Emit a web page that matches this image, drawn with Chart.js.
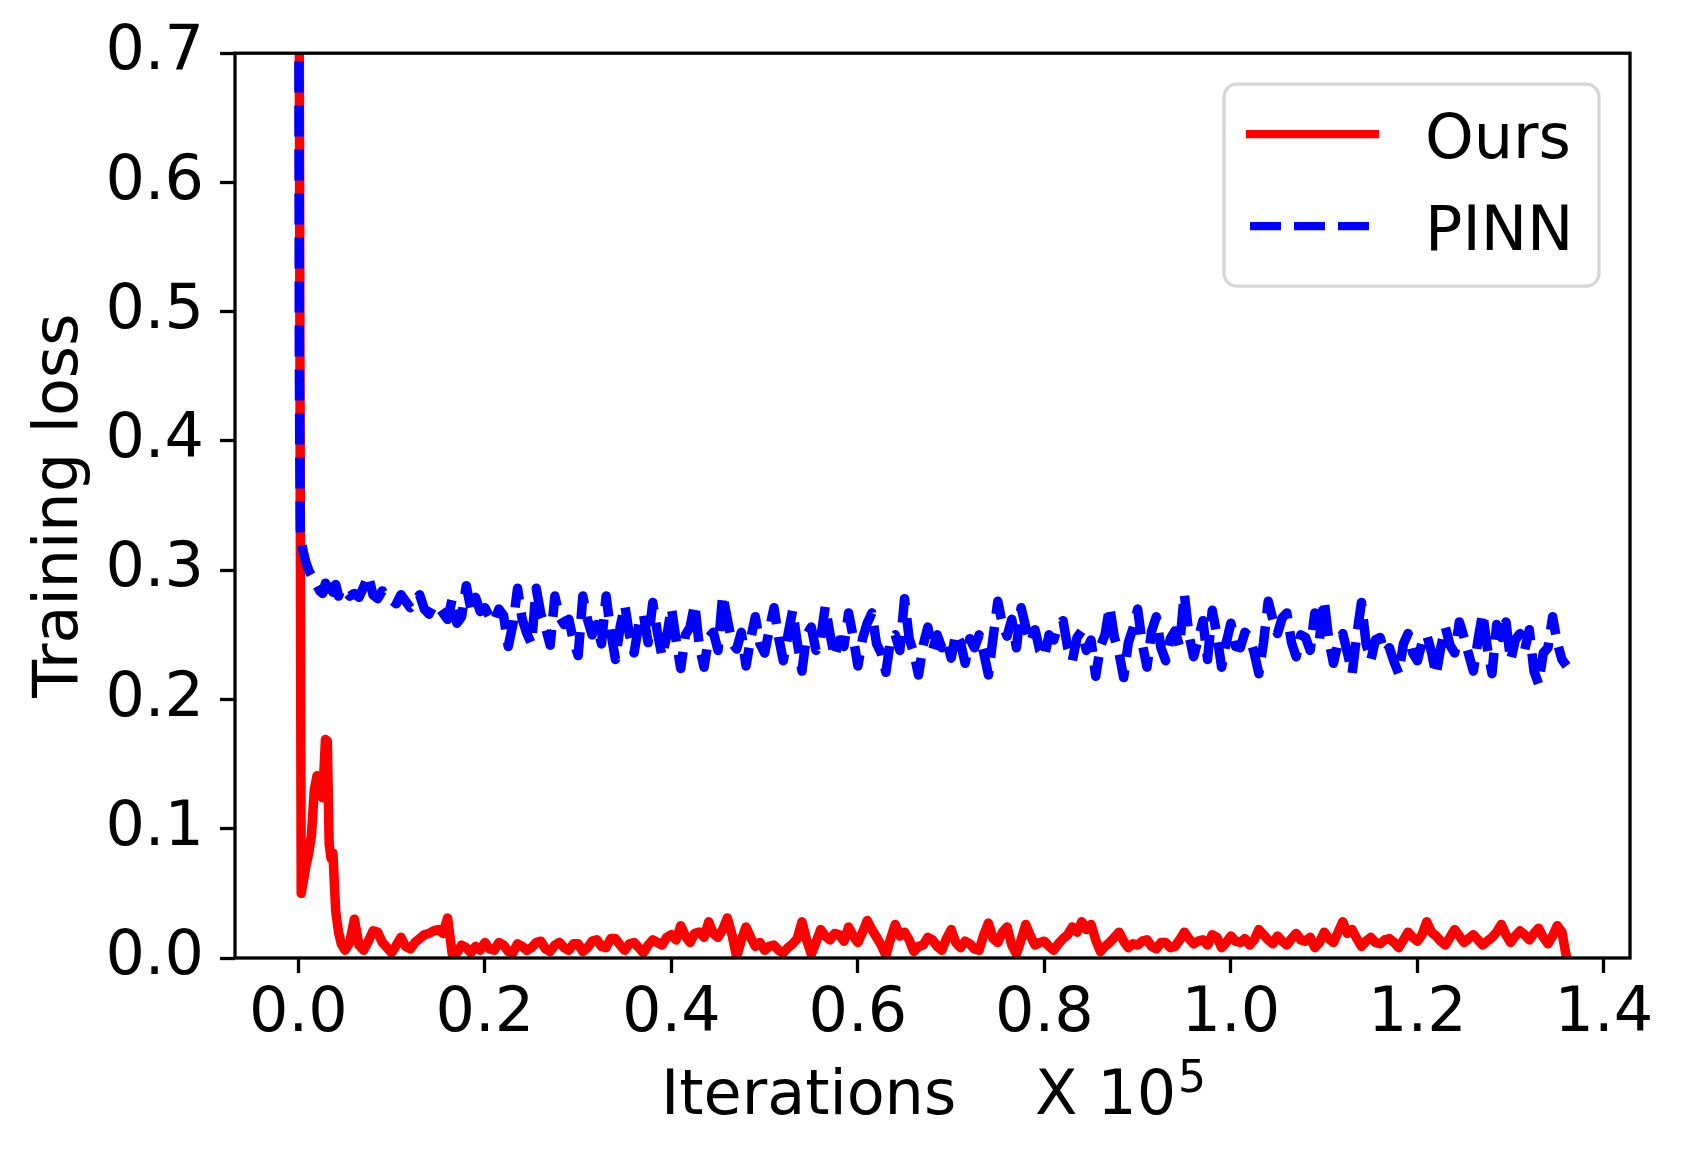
<!DOCTYPE html>
<html>
<head>
<meta charset="utf-8">
<script src="https://cdn.jsdelivr.net/npm/chart.js@4.4.0/dist/chart.umd.min.js"></script>
<style>
  body { margin: 0; background: #ffffff; }
</style>
</head>
<body>
<canvas id="loss-chart" width="1685" height="1158"></canvas>
<script>
// iterations (units of 10^5)
var iters = [
  0, 0.001, 0.002, 0.003, 0.005, 0.008, 0.011, 0.014, 0.017, 0.020,
  0.023, 0.026, 0.029, 0.031, 0.033, 0.035, 0.037, 0.040, 0.043, 0.046,
  0.050, 0.055, 0.060, 0.065, 0.070, 0.075, 0.080, 0.085, 0.090, 0.095,
  0.100, 0.105, 0.110, 0.115, 0.120, 0.125, 0.130, 0.135, 0.140, 0.145,
  0.150, 0.155, 0.160, 0.165, 0.170, 0.175, 0.180, 0.185, 0.190, 0.195,
  0.200, 0.205, 0.210, 0.215, 0.220, 0.225, 0.230, 0.235, 0.240, 0.245,
  0.250, 0.255, 0.260, 0.265, 0.270, 0.275, 0.280, 0.285, 0.290, 0.295,
  0.300, 0.305, 0.310, 0.315, 0.320, 0.325, 0.330, 0.335, 0.340, 0.345,
  0.350, 0.355, 0.360, 0.365, 0.370, 0.375, 0.380, 0.385, 0.390, 0.395,
  0.400, 0.405, 0.410, 0.415, 0.420, 0.425, 0.430, 0.435, 0.440, 0.445,
  0.450, 0.455, 0.460, 0.465, 0.470, 0.475, 0.480, 0.485, 0.490, 0.495,
  0.500, 0.505, 0.510, 0.515, 0.520, 0.525, 0.530, 0.535, 0.540, 0.545,
  0.550, 0.555, 0.560, 0.565, 0.570, 0.575, 0.580, 0.585, 0.590, 0.595,
  0.600, 0.605, 0.610, 0.615, 0.620, 0.625, 0.630, 0.635, 0.640, 0.645,
  0.650, 0.655, 0.660, 0.665, 0.670, 0.675, 0.680, 0.685, 0.690, 0.695,
  0.700, 0.705, 0.710, 0.715, 0.720, 0.725, 0.730, 0.735, 0.740, 0.745,
  0.750, 0.755, 0.760, 0.765, 0.770, 0.775, 0.780, 0.785, 0.790, 0.795,
  0.800, 0.805, 0.810, 0.815, 0.820, 0.825, 0.830, 0.835, 0.840, 0.845,
  0.850, 0.855, 0.860, 0.865, 0.870, 0.875, 0.880, 0.885, 0.890, 0.895,
  0.900, 0.905, 0.910, 0.915, 0.920, 0.925, 0.930, 0.935, 0.940, 0.945,
  0.950, 0.955, 0.960, 0.965, 0.970, 0.975, 0.980, 0.985, 0.990, 0.995,
  1.000, 1.005, 1.010, 1.015, 1.020, 1.025, 1.030, 1.035, 1.040, 1.045,
  1.050, 1.055, 1.060, 1.065, 1.070, 1.075, 1.080, 1.085, 1.090, 1.095,
  1.100, 1.105, 1.110, 1.115, 1.120, 1.125, 1.130, 1.135, 1.140, 1.145,
  1.150, 1.155, 1.160, 1.165, 1.170, 1.175, 1.180, 1.185, 1.190, 1.195,
  1.200, 1.205, 1.210, 1.215, 1.220, 1.225, 1.230, 1.235, 1.240, 1.245,
  1.250, 1.255, 1.260, 1.265, 1.270, 1.275, 1.280, 1.285, 1.290, 1.295,
  1.300, 1.305, 1.310, 1.315, 1.320, 1.325, 1.330, 1.335, 1.340, 1.345,
  1.350, 1.355, 1.360
];

// training loss of our model
var ours_loss = [
  1.0, 0.70, 0.35, 0.050, 0.058, 0.071, 0.081, 0.095, 0.130, 0.141,
  0.138, 0.124, 0.169, 0.168, 0.088, 0.077, 0.081, 0.036, 0.020, 0.011,
  0.006, 0.012, 0.030, 0.010, 0.006, 0.013, 0.021, 0.020, 0.012, 0.008,
  0.004, 0.010, 0.016, 0.009, 0.007, 0.012, 0.015, 0.018, 0.019, 0.021,
  0.022, 0.019, 0.031, 0.003, 0.004, 0.010, 0.008, 0.004, 0.009, 0.006,
  0.012, 0.007, 0.006, 0.012, 0.010, 0.005, 0.004, 0.011, 0.009, 0.006,
  0.008, 0.012, 0.013, 0.007, 0.005, 0.010, 0.012, 0.008, 0.006, 0.011,
  0.011, 0.005, 0.008, 0.013, 0.014, 0.009, 0.008, 0.015, 0.015, 0.010,
  0.006, 0.011, 0.012, 0.008, 0.004, 0.010, 0.014, 0.012, 0.010, 0.016,
  0.018, 0.014, 0.025, 0.017, 0.012, 0.019, 0.020, 0.016, 0.028, 0.019,
  0.016, 0.022, 0.031, 0.018, 0.001, 0.014, 0.024, 0.016, 0.009, 0.012,
  0.006, 0.009, 0.010, 0.006, 0.004, 0.008, 0.011, 0.015, 0.028, 0.014,
  0.003, 0.012, 0.022, 0.017, 0.014, 0.019, 0.018, 0.013, 0.024, 0.017,
  0.012, 0.020, 0.029, 0.022, 0.016, 0.010, 0.002, 0.015, 0.026, 0.017,
  0.020, 0.014, 0.005, 0.009, 0.010, 0.016, 0.014, 0.009, 0.006, 0.015,
  0.022, 0.012, 0.008, 0.013, 0.011, 0.007, 0.006, 0.018, 0.027, 0.015,
  0.012, 0.020, 0.024, 0.010, 0.003, 0.014, 0.026, 0.017, 0.010, 0.012,
  0.013, 0.009, 0.006, 0.011, 0.015, 0.018, 0.024, 0.020, 0.028, 0.022,
  0.026, 0.014, 0.005, 0.009, 0.012, 0.016, 0.020, 0.013, 0.008, 0.011,
  0.010, 0.013, 0.014, 0.009, 0.007, 0.012, 0.012, 0.008, 0.009, 0.014,
  0.020, 0.015, 0.011, 0.013, 0.014, 0.010, 0.018, 0.016, 0.008, 0.012,
  0.017, 0.013, 0.012, 0.015, 0.010, 0.014, 0.022, 0.018, 0.014, 0.011,
  0.017, 0.013, 0.010, 0.015, 0.019, 0.014, 0.013, 0.016, 0.008, 0.012,
  0.020, 0.015, 0.012, 0.020, 0.028, 0.019, 0.022, 0.015, 0.009, 0.013,
  0.016, 0.012, 0.011, 0.014, 0.015, 0.012, 0.008, 0.014, 0.020, 0.016,
  0.013, 0.018, 0.028, 0.020, 0.017, 0.013, 0.010, 0.016, 0.022, 0.017,
  0.012, 0.015, 0.018, 0.014, 0.010, 0.013, 0.016, 0.020, 0.026, 0.018,
  0.012, 0.017, 0.021, 0.018, 0.014, 0.019, 0.023, 0.016, 0.011, 0.017,
  0.025, 0.020, 0.0
];

// training loss of the plain PINN
var pinn_loss = [
  1.0, 0.46, 0.332, 0.323, 0.315, 0.306, 0.300, 0.296, 0.291, 0.288,
  0.284, 0.282, 0.290, 0.286, 0.279, 0.287, 0.283, 0.289, 0.280, 0.286,
  0.284, 0.280, 0.282, 0.279, 0.287, 0.296, 0.281, 0.278, 0.284, 0.279,
  0.277, 0.274, 0.281, 0.276, 0.271, 0.275, 0.281, 0.270, 0.266, 0.273,
  0.272, 0.267, 0.262, 0.278, 0.259, 0.264, 0.288, 0.270, 0.279, 0.268,
  0.271, 0.264, 0.260, 0.270, 0.265, 0.241, 0.258, 0.286, 0.262, 0.251,
  0.243, 0.286, 0.266, 0.256, 0.242, 0.280, 0.264, 0.258, 0.262, 0.245,
  0.234, 0.280, 0.262, 0.250, 0.258, 0.243, 0.280, 0.252, 0.231, 0.256,
  0.273, 0.250, 0.236, 0.258, 0.266, 0.244, 0.275, 0.252, 0.233, 0.249,
  0.271, 0.246, 0.224, 0.250, 0.256, 0.274, 0.241, 0.225, 0.248, 0.252,
  0.238, 0.281, 0.262, 0.244, 0.239, 0.252, 0.226, 0.247, 0.264, 0.243,
  0.236, 0.254, 0.271, 0.248, 0.230, 0.250, 0.269, 0.244, 0.222, 0.250,
  0.256, 0.238, 0.247, 0.272, 0.251, 0.233, 0.246, 0.241, 0.267, 0.248,
  0.226, 0.247, 0.259, 0.267, 0.243, 0.236, 0.221, 0.246, 0.250, 0.238,
  0.278, 0.247, 0.236, 0.219, 0.242, 0.256, 0.238, 0.250, 0.240, 0.246,
  0.232, 0.251, 0.244, 0.228, 0.247, 0.240, 0.250, 0.236, 0.219, 0.248,
  0.276, 0.258, 0.249, 0.262, 0.240, 0.271, 0.256, 0.244, 0.254, 0.238,
  0.233, 0.250, 0.246, 0.258, 0.261, 0.240, 0.230, 0.248, 0.253, 0.238,
  0.246, 0.218, 0.241, 0.250, 0.272, 0.248, 0.236, 0.217, 0.244, 0.255,
  0.270, 0.243, 0.225, 0.253, 0.264, 0.240, 0.230, 0.247, 0.253, 0.241,
  0.282, 0.250, 0.233, 0.247, 0.261, 0.231, 0.269, 0.250, 0.225, 0.244,
  0.259, 0.241, 0.240, 0.252, 0.248, 0.236, 0.220, 0.244, 0.276, 0.262,
  0.251, 0.263, 0.267, 0.244, 0.233, 0.250, 0.248, 0.238, 0.267, 0.247,
  0.277, 0.246, 0.228, 0.244, 0.251, 0.236, 0.220, 0.250, 0.275, 0.243,
  0.230, 0.246, 0.248, 0.236, 0.240, 0.229, 0.220, 0.243, 0.251, 0.236,
  0.230, 0.244, 0.250, 0.237, 0.219, 0.240, 0.256, 0.242, 0.236, 0.260,
  0.248, 0.235, 0.222, 0.246, 0.267, 0.240, 0.220, 0.258, 0.248, 0.260,
  0.230, 0.246, 0.251, 0.238, 0.254, 0.222, 0.212, 0.236, 0.240, 0.264,
  0.244, 0.231, 0.226
];

var x_ticks = [0.0, 0.2, 0.4, 0.6, 0.8, 1.0, 1.2, 1.4];
var y_ticks = [0.0, 0.1, 0.2, 0.3, 0.4, 0.5, 0.6, 0.7];
var series_labels = ["Ours", "PINN"];
var series_colors = ["#ff0000", "#0000ff"];
var series_dashes = [[], [31, 13]];
var x_title = "Iterations    X 10";
var x_title_exp = "5";

Chart.defaults.font.family = "'DejaVu Sans'";
Chart.defaults.font.size = 62;
Chart.defaults.color = "#000000";

function to_points(values){
  var pts = [];
  for(var i=0;i<iters.length;i++){
    pts.push({x: iters[i], y: values[i]});
  }
  return pts;
}

// black box round the plot area, like the matplotlib spines
var frame_plugin = {
  id: "frame",
  afterDatasetsDraw: function(chart){
    var ctx = chart.ctx;
    var a = chart.chartArea;
    ctx.save();
    ctx.strokeStyle = "#000000";
    ctx.lineWidth = 3.3;
    ctx.strokeRect(a.left, a.top, a.right - a.left, a.bottom - a.top);
    ctx.restore();
  }
};

// x axis label with a raised exponent
var xlabel_plugin = {
  id: "xlabel",
  afterDraw: function(chart){
    var ctx = chart.ctx;
    var a = chart.chartArea;
    ctx.save();
    ctx.fillStyle = "#000000";
    ctx.textAlign = "left";
    ctx.textBaseline = "alphabetic";
    ctx.font = "62px 'DejaVu Sans'";
    var main_w = ctx.measureText(x_title).width;
    ctx.font = "44px 'DejaVu Sans'";
    var exp_w = ctx.measureText(x_title_exp).width;
    var start = (a.left + a.right)/2 - (main_w + exp_w)/2;
    var base = a.bottom + 156;
    ctx.font = "62px 'DejaVu Sans'";
    ctx.fillText(x_title, start, base);
    ctx.font = "44px 'DejaVu Sans'";
    ctx.fillText(x_title_exp, start + main_w + 2, base - 22);
    ctx.restore();
  }
};

// legend box in the upper right corner of the plot
var legend_plugin = {
  id: "inner_legend",
  afterDraw: function(chart){
    var ctx = chart.ctx;
    var a = chart.chartArea;
    var box_w = 375, box_h = 202;
    var box_x = a.right - 31 - box_w;
    var box_y = a.top + 31;
    ctx.save();
    ctx.beginPath();
    ctx.roundRect(box_x, box_y, box_w, box_h, 13);
    ctx.fillStyle = "rgba(255,255,255,0.8)";
    ctx.fill();
    ctx.strokeStyle = "#d6d6d6";
    ctx.lineWidth = 3.3;
    ctx.stroke();

    var ds = chart.data.datasets;
    for(var i=0;i<ds.length;i++){
      var row_y = box_y + 50 + i*92;
      ctx.beginPath();
      ctx.strokeStyle = ds[i].borderColor;
      ctx.lineWidth = 8.3;
      ctx.lineCap = ds[i].borderCapStyle;
      ctx.setLineDash(ds[i].borderDash || []);
      ctx.moveTo(box_x + 26, row_y);
      ctx.lineTo(box_x + 151, row_y);
      ctx.stroke();
      ctx.setLineDash([]);
      ctx.fillStyle = "#000000";
      ctx.font = "62px 'DejaVu Sans'";
      ctx.textAlign = "left";
      ctx.textBaseline = "alphabetic";
      ctx.fillText(ds[i].label, box_x + 201, row_y + 24);
    }
    ctx.restore();
  }
};

var axis_grid = {
  drawOnChartArea: false,
  drawTicks: true,
  tickLength: 15,
  tickWidth: 3.3,
  tickColor: "#000000",
  color: "#000000"
};

var loss_ctx = document.getElementById("loss-chart").getContext("2d");
var loss_chart = new Chart(loss_ctx, {
  type: "line",
  data: {
    datasets: [
      {
        label: series_labels[0],
        data: to_points(ours_loss),
        borderColor: series_colors[0],
        borderWidth: 9.5,
        borderDash: series_dashes[0],
        borderCapStyle: "square",
        borderJoinStyle: "round",
        pointRadius: 0,
        tension: 0,
        fill: false,
        clip: 0,
        order: 1
      },
      {
        label: series_labels[1],
        data: to_points(pinn_loss),
        borderColor: series_colors[1],
        borderWidth: 9.5,
        borderDash: series_dashes[1],
        borderCapStyle: "butt",
        borderJoinStyle: "round",
        pointRadius: 0,
        tension: 0,
        fill: false,
        clip: 0,
        order: 0
      }
    ]
  },
  options: {
    responsive: false,
    animation: false,
    layout: { padding: { left: 0, top: 52, right: 55, bottom: 0 } },
    plugins: {
      legend: { display: false },
      tooltip: { enabled: false }
    },
    scales: {
      x: {
        type: "linear",
        min: -0.068,
        max: 1.428,
        afterBuildTicks: function(scale){
          scale.ticks = x_ticks.map(function(v){ return {value: v}; });
        },
        afterFit: function(scale){ scale.height = 200; },
        grid: axis_grid,
        border: { display: false },
        ticks: {
          padding: 5,
          autoSkip: false,
          maxRotation: 0,
          callback: function(v){ return v.toFixed(1); }
        },
        title: { display: false }
      },
      y: {
        type: "linear",
        min: 0,
        max: 0.7,
        afterBuildTicks: function(scale){
          scale.ticks = y_ticks.map(function(v){ return {value: v}; });
        },
        afterFit: function(scale){ scale.width = 235; },
        grid: axis_grid,
        border: { display: false },
        ticks: {
          padding: 16,
          callback: function(v){ return v.toFixed(1); }
        },
        title: {
          display: true,
          text: "Training loss",
          padding: { top: 24, bottom: 0 }
        }
      }
    }
  },
  plugins: [frame_plugin, xlabel_plugin, legend_plugin]
});
</script>
</body>
</html>
